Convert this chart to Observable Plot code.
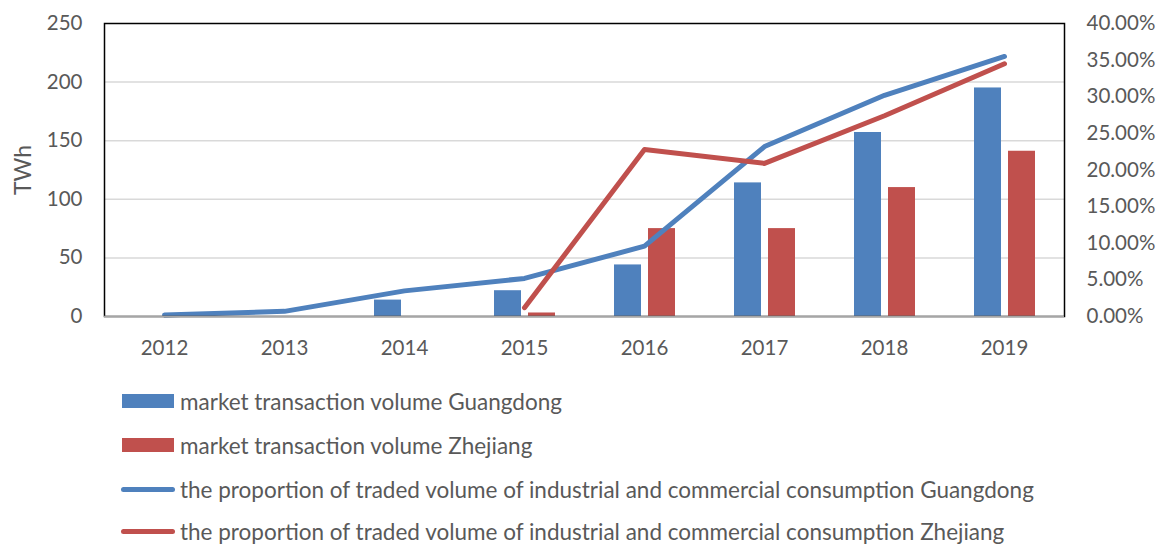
<!DOCTYPE html>
<html>
<head>
<meta charset="utf-8">
<script src="https://cdn.jsdelivr.net/npm/d3@7"></script>
<script src="https://cdn.jsdelivr.net/npm/@observablehq/plot@0.6"></script>
<style>
  html, body { margin: 0; padding: 0; background: #fff; }
  body { width: 1160px; height: 546px; position: relative; overflow: hidden; font-family: Lato, "Open Sans", sans-serif; color: #595959; }
  #chart { position: absolute; left: 0; top: 0; }
  .legend { position: absolute; left: 0; top: 0; }
  .item { position: absolute; left: 121px; height: 30px; display: flex; align-items: center; font-size: 22.5px; white-space: nowrap; }
  .sw-bar { width: 52px; height: 14px; margin-left: 1px; margin-right: 6px; }
  .sw-line { width: 54px; height: 5px; border-radius: 3px; margin-right: 5px; }
</style>
</head>
<body>
<div id="chart"></div>
<div class="legend" id="legend"></div>
<script>
// ---- data ----
const years = ["2012", "2013", "2014", "2015", "2016", "2017", "2018", "2019"];
const volumeGuangdong = [null, null, 14, 22, 44, 114, 157, 195];      // TWh
const volumeZhejiang  = [null, null, null, 3, 75, 75, 110, 141];      // TWh
const shareGuangdong  = [0.2, 0.7, 3.5, 5.2, 9.6, 23.2, 30.2, 35.5];  // %
const shareZhejiang   = [null, null, null, 1.2, 22.8, 20.9, 27.4, 34.5]; // %
const leftTicks  = [0, 50, 100, 150, 200, 250];
const rightTicks = [0, 5, 10, 15, 20, 25, 30, 35, 40];
const seriesNames = [
  "market transaction volume Guangdong",
  "market transaction volume Zhejiang",
  "the proportion of traded volume of industrial and commercial consumption Guangdong",
  "the proportion of traded volume of industrial and commercial consumption Zhejiang"
];
const blue = "#4F81BD", red = "#C0504D";

// ---- table ----
const leftMax = 250, rightMax = 40;
const k = leftMax / rightMax; // percent -> left-axis units
const rows = years.map((y, i) => ({
  year: y,
  gd: volumeGuangdong[i], zj: volumeZhejiang[i],
  gdS: shareGuangdong[i], zjS: shareZhejiang[i]
}));

const chart = Plot.plot({
  width: 1160,
  height: 372,
  marginLeft: 104,
  marginRight: 96,
  marginTop: 23,
  marginBottom: 56,
  style: { fontFamily: "Lato, 'Open Sans', sans-serif", fontSize: "20.5px", color: "#595959", background: "white" },
  x: { type: "band", domain: years, padding: 0 },
  y: { domain: [0, leftMax] },
  marks: [
    Plot.ruleY(leftTicks.filter(d => d > 0 && d < leftMax), { stroke: "#D9D9D9", strokeWidth: 1.5 }),
    Plot.barY(rows.filter(d => d.gd != null), { x: "year", y: "gd", fill: blue, insetLeft: 30, insetRight: 63 }),
    Plot.barY(rows.filter(d => d.zj != null), { x: "year", y: "zj", fill: red, insetLeft: 64, insetRight: 29 }),
    Plot.line(rows.filter(d => d.gdS != null), { x: "year", y: d => d.gdS * k, stroke: blue, strokeWidth: 5, strokeLinecap: "round", strokeLinejoin: "round" }),
    Plot.line(rows.filter(d => d.zjS != null), { x: "year", y: d => d.zjS * k, stroke: red, strokeWidth: 5, strokeLinecap: "round", strokeLinejoin: "round" }),
    Plot.frame({ stroke: "#000", strokeWidth: 1.5 }),
    Plot.ruleY([0], { stroke: "#A6A6A6", strokeWidth: 1.5 }),
    Plot.axisY({ anchor: "left", ticks: leftTicks, tickSize: 0, tickPadding: 22, label: null }),
    Plot.axisY({ anchor: "left", ticks: [], label: "TWh", labelAnchor: "center", labelOffset: 90, labelArrow: "none", fontSize: 23 }),
    Plot.axisY({ anchor: "right", ticks: rightTicks.map(p => p * k), tickSize: 0, tickPadding: 22, textAnchor: "start",
      tickFormat: d => (d / k).toFixed(2) + "%", label: null }),
    Plot.axisX({ anchor: "bottom", tickSize: 0, tickPadding: 24, label: null })
  ]
});
document.getElementById("chart").appendChild(chart);

// ---- legend ----
const legend = document.getElementById("legend");
const tops = [386, 430, 474, 516];
seriesNames.forEach((name, i) => {
  const it = document.createElement("div");
  it.className = "item";
  it.style.top = tops[i] + "px";
  const sw = document.createElement("span");
  sw.className = i < 2 ? "sw-bar" : "sw-line";
  sw.style.background = i % 2 === 0 ? blue : red;
  it.appendChild(sw);
  const t = document.createElement("span");
  t.textContent = name;
  it.appendChild(t);
  legend.appendChild(it);
});
</script>
</body>
</html>
